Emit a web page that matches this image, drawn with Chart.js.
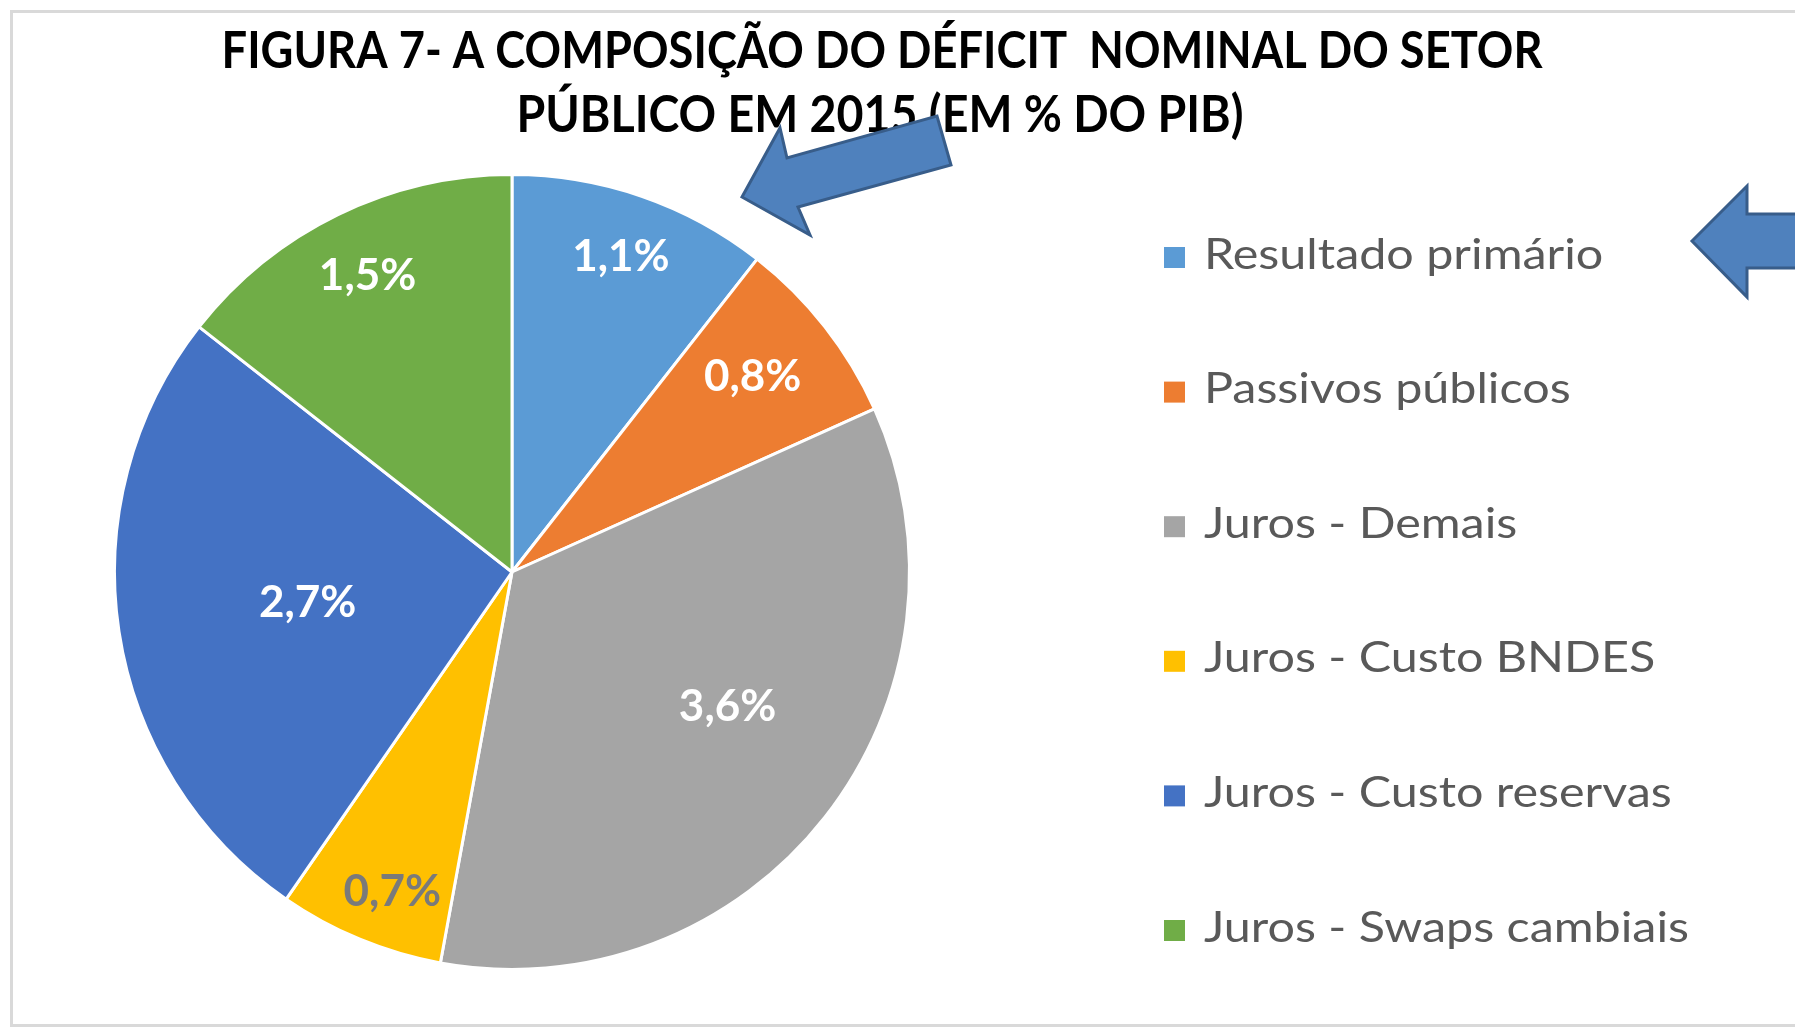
<!DOCTYPE html>
<html><head><meta charset="utf-8">
<script src="https://cdn.jsdelivr.net/npm/chart.js@4.4.1/dist/chart.umd.min.js"></script>
<style>html,body{margin:0;padding:0;background:#fff;overflow:hidden}canvas{display:block}</style>
</head><body>
<canvas id="c" width="1795" height="1027"></canvas>
<script>
// ---- data ----
const categories = ['Resultado primário','Passivos públicos','Juros - Demais','Juros - Custo BNDES','Juros - Custo reservas','Juros - Swaps cambiais'];
const values = [1.1, 0.8, 3.6, 0.7, 2.7, 1.5];
const sliceColors = ['#5B9BD5','#ED7D31','#A5A5A5','#FFC000','#4472C4','#70AD47'];
const labelColors = ['#ffffff','#ffffff','#ffffff','#7a7a7a','#ffffff','#ffffff'];
const titleLines = ['FIGURA 7- A COMPOSIÇÃO DO DÉFICIT  NOMINAL DO SETOR','PÚBLICO EM 2015 (EM % DO PIB)'];

// ---- styling / layout constants ----
const labelRadial = [0.84, 0.78, 0.64, 0.86, 0.52, 0.83];
const labelAngleShift = [0, -1, -6, -2, 0, 0]; // degrees
const FONT = 'Lato, "Open Sans", "DejaVu Sans", sans-serif';

function fmt(v){ return v.toFixed(1).replace('.', ',') + '%'; }

function drawStretched(ctx, text, x, y, sx, align){
  const w = ctx.measureText(text).width;
  ctx.save();
  ctx.translate(x, y);
  ctx.scale(sx, 1);
  ctx.textAlign = 'left';
  ctx.fillText(text, align === 'center' ? -w/2 : 0, 0);
  ctx.restore();
}

function poly(ctx, pts){
  ctx.beginPath();
  ctx.moveTo(pts[0][0], pts[0][1]);
  for (let i = 1; i < pts.length; i++) ctx.lineTo(pts[i][0], pts[i][1]);
  ctx.closePath();
  ctx.fillStyle = '#4F81BD';
  ctx.fill();
  ctx.lineWidth = 3;
  ctx.lineJoin = 'miter';
  ctx.strokeStyle = '#385D8A';
  ctx.stroke();
}

const decor = {
  id: 'decor',
  beforeDraw(chart){
    const ctx = chart.ctx;
    ctx.save();
    ctx.fillStyle = '#ffffff';
    ctx.fillRect(0, 0, chart.width, chart.height);
    ctx.strokeStyle = '#d9d9d9';
    ctx.lineWidth = 3;
    ctx.strokeRect(11.5, 11.5, 1820, 1014);
    ctx.restore();
  },
  afterDatasetsDraw(chart){
    const ctx = chart.ctx;
    const meta = chart.getDatasetMeta(0);
    ctx.save();
    ctx.font = 'bold 44px ' + FONT;
    ctx.textBaseline = 'middle';
    meta.data.forEach((arc, i) => {
      const p = arc.getProps(['x','y','startAngle','endAngle','outerRadius'], true);
      const mid = (p.startAngle + p.endAngle) / 2 + labelAngleShift[i] * Math.PI / 180;
      const r = p.outerRadius * labelRadial[i];
      ctx.fillStyle = labelColors[i];
      drawStretched(ctx, fmt(values[i]), p.x + Math.cos(mid) * r, p.y + Math.sin(mid) * r, 1.0, 'center');
    });
    ctx.restore();
  },
  afterDraw(chart){
    const ctx = chart.ctx;
    ctx.save();
    // title
    ctx.fillStyle = '#000000';
    ctx.font = 'bold 51px ' + FONT;
    ctx.textBaseline = 'alphabetic';
    const w1 = ctx.measureText(titleLines[0]).width;
    const w2 = ctx.measureText(titleLines[1]).width;
    drawStretched(ctx, titleLines[0], 882, 68, 1321 / w1, 'center');
    drawStretched(ctx, titleLines[1], 880, 132, 727 / w2, 'center');

    // legend
    ctx.font = '43px ' + FONT;
    let maxW = 0;
    categories.forEach(c => { maxW = Math.max(maxW, ctx.measureText(c).width); });
    const lsx = 485 / maxW;
    categories.forEach((c, i) => {
      const cy = 257.5 + 134.6 * i;
      ctx.fillStyle = sliceColors[i];
      ctx.fillRect(1164, cy - 10.5, 21, 21);
      ctx.fillStyle = '#595959';
      drawStretched(ctx, c, 1204, cy + 11, lsx, 'left');
    });

    // annotation arrows
    poly(ctx, [[742,197],[780,128],[787,158],[937,116],[951,165],[798,207],[810,235]]);
    poly(ctx, [[1692,241],[1747,186],[1747,214],[1800,214],[1800,268],[1747,268],[1747,297]]);
    ctx.restore();
  }
};

new Chart(document.getElementById('c'), {
  type: 'pie',
  data: {
    labels: categories,
    datasets: [{
      data: values,
      backgroundColor: sliceColors,
      borderColor: '#ffffff',
      borderWidth: 3
    }]
  },
  options: {
    responsive: false,
    devicePixelRatio: 1,
    animation: false,
    layout: { padding: { left: 113, right: 884, top: 173, bottom: 56 } },
    plugins: {
      legend: { display: false },
      title: { display: false },
      tooltip: { enabled: false }
    }
  },
  plugins: [decor]
});
</script>
</body></html>
